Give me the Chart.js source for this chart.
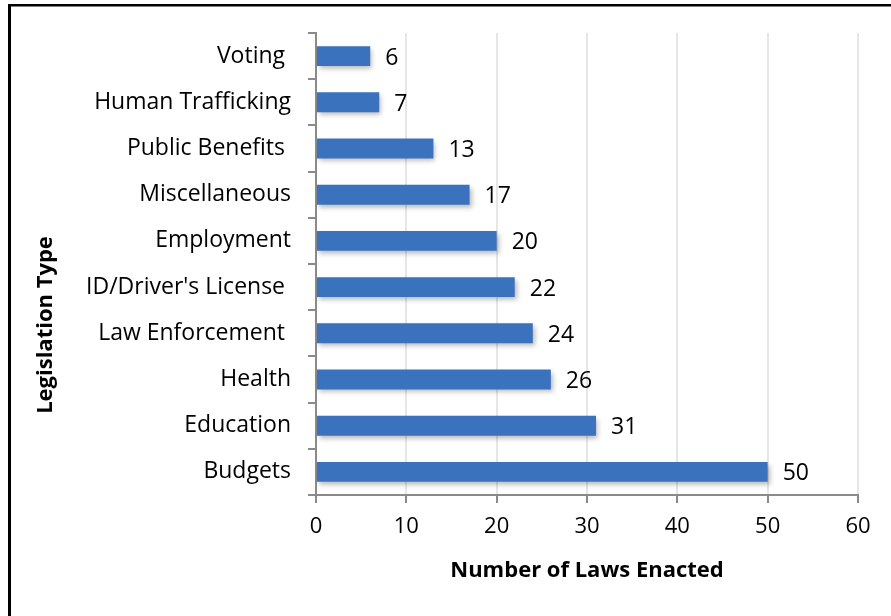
<!DOCTYPE html>
<html>
<head>
<meta charset="utf-8">
<script src="https://cdn.jsdelivr.net/npm/chart.js@4"></script>
<style>
  html, body { margin: 0; padding: 0; background: #fff; }
  #wrap { width: 891px; height: 616px; position: relative; }
</style>
</head>
<body>
<div id="wrap"><canvas id="lawsChart" width="891" height="616"></canvas></div>
<script>
// Data
const categories = ['Voting ', 'Human Trafficking', 'Public Benefits ', 'Miscellaneous', 'Employment',
                    "ID/Driver's License ", 'Law Enforcement ', 'Health', 'Education', 'Budgets'];
const lawCounts = [6, 7, 13, 17, 20, 22, 24, 26, 31, 50];
const xTicks = [0, 10, 20, 30, 40, 50, 60];

const FONT = "'Open Sans', 'DejaVu Sans', sans-serif";

// frame lines on left and top, like the original export
const framePlugin = {
    id: 'frame',
    beforeDraw(chart) {
        const ctx = chart.ctx;
        ctx.save();
        ctx.fillStyle = '#fff';
        ctx.fillRect(0, 0, chart.width, chart.height);
        ctx.fillStyle = '#000';
        ctx.fillRect(8, 4, 3, chart.height - 4);
        ctx.fillRect(8, 4, chart.width - 8, 2.5);
        ctx.restore();
    }
};

// soft drop shadow under the bars
const shadowPlugin = {
    id: 'barShadow',
    beforeDatasetsDraw(chart) {
        const ctx = chart.ctx;
        ctx.save();
        ctx.shadowColor = 'rgba(0,0,0,0.28)';
        ctx.shadowBlur = 5;
        ctx.shadowOffsetX = 2;
        ctx.shadowOffsetY = 3;
    },
    afterDatasetsDraw(chart) {
        chart.ctx.restore();
    }
};

// value labels and axis titles
const labelPlugin = {
    id: 'valueLabels',
    afterDraw(chart) {
        const ctx = chart.ctx;
        const meta = chart.getDatasetMeta(0);
        ctx.save();
        ctx.fillStyle = '#000';
        ctx.font = '23px ' + FONT;
        ctx.textAlign = 'left';
        ctx.textBaseline = 'middle';
        meta.data.forEach((bar, i) => {
            ctx.fillText(String(lawCounts[i]), bar.x + 15, bar.y + 2);
        });

        const area = chart.chartArea;
        ctx.font = 'bold 22px ' + FONT;
        ctx.textAlign = 'center';
        ctx.fillText('Number of Laws Enacted', (area.left + area.right) / 2, 571);

        ctx.translate(46, 325);
        ctx.rotate(-Math.PI / 2);
        ctx.fillText('Legislation Type', 0, 0);
        ctx.restore();
    }
};

const ctx = document.getElementById('lawsChart').getContext('2d');
new Chart(ctx, {
    type: 'bar',
    data: {
        labels: categories,
        datasets: [{
            data: lawCounts,
            backgroundColor: (c) => {
                const el = c.element;
                const area = c.chart.chartArea;
                if (!el || !area || !el.height) return '#3a72bd';
                const top = el.y - el.height / 2;
                const g = c.chart.ctx.createLinearGradient(0, top, 0, top + el.height);
                g.addColorStop(0, '#4283d2');
                g.addColorStop(0.5, '#3872bd');
                g.addColorStop(1, '#2b5b98');
                return g;
            },
            borderWidth: 0,
            categoryPercentage: 1,
            barPercentage: 0.43
        }]
    },
    options: {
        indexAxis: 'y',
        responsive: false,
        animation: false,
        layout: { padding: { top: 33, right: 33, left: 0, bottom: 0 } },
        plugins: {
            legend: { display: false },
            tooltip: { enabled: false }
        },
        scales: {
            x: {
                min: 0,
                max: 60,
                afterBuildTicks: (s) => { s.ticks = xTicks.map(v => ({ value: v })); },
                afterFit: (s) => { s.height = 121; },
                border: { color: '#8a8a8a', width: 2 },
                grid: { color: '#e6e6e6', lineWidth: 2, tickColor: '#8a8a8a', tickLength: 8 },
                ticks: { color: '#000', font: { family: FONT, size: 22 }, padding: 11 }
            },
            y: {
                afterFit: (s) => { s.width = 316; },
                border: { color: '#8a8a8a', width: 2 },
                grid: { drawOnChartArea: false, color: '#8a8a8a', lineWidth: 2, tickLength: 8 },
                ticks: { color: '#000', font: { family: FONT, size: 23 }, padding: 17 }
            }
        }
    },
    plugins: [framePlugin, shadowPlugin, labelPlugin]
});
</script>
</body>
</html>
